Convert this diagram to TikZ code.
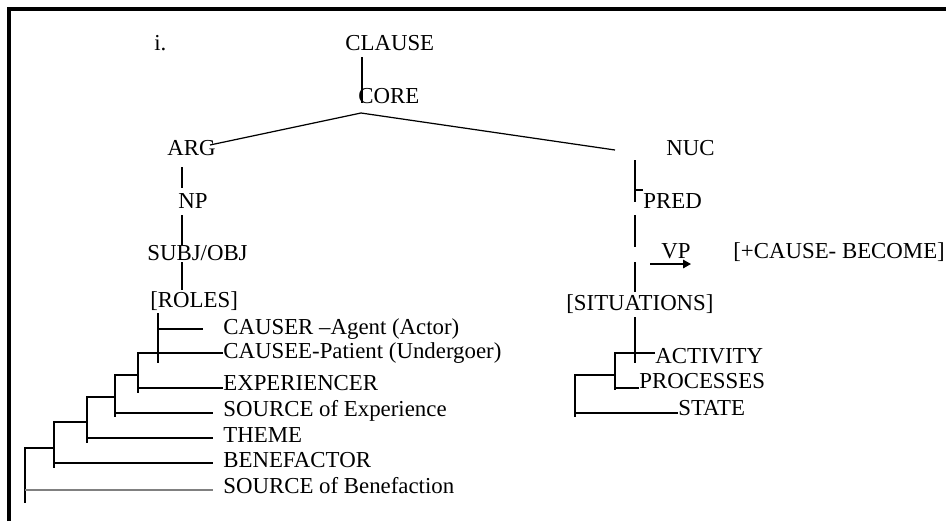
\documentclass[tikz,border=0pt]{standalone}
\usepackage{fontspec}
\setmainfont{Liberation Serif}
\usetikzlibrary{arrows.meta}

\begin{document}
\begin{tikzpicture}[
    x=0.02cm, y=-0.02cm,
    word/.style={anchor=base west, inner sep=0pt, font=\fontsize{13}{15}\selectfont},
    branch/.style={line width=0.7pt},
    gap/.style={branch, shorten >=0.2cm},
    frame/.style={line width=1.9pt}
]
\useasboundingbox (0,0) rectangle (946,521);
\draw[frame] (9,521) -- (9,9) -- (946,9);

% top of the tree
\node[word] (num) at (154,50) {i.};
\node[word] (clause) at (345,50) {CLAUSE};
\node[word] (core) at (358,103) {CORE};
\node[word] (arg) at (167,155) {ARG};
\node[word] (nuc) at (666,155) {NUC};
\node[word] (np) at (178,208) {NP};
\node[word] (pred) at (643,208) {PRED};
\node[word] (subj) at (147,260) {SUBJ/OBJ};
\node[word] (vp) at (661,258) {VP};
\node[word] (feat) at (733,258) {[+CAUSE- BECOME]};
\node[word] (roles) at (150,307) {[ROLES]};
\node[word] (sit) at (566,310) {[SITUATIONS]};

% roles
\node[word] (causer) at (223,334) {CAUSER –Agent (Actor)};
\node[word] (causee) at (223,358) {CAUSEE-Patient (Undergoer)};
\node[word] (exper) at (223,390) {EXPERIENCER};
\node[word] (srcexp) at (223,416) {SOURCE of Experience};
\node[word] (theme) at (223,442) {THEME};
\node[word] (benef) at (223,467) {BENEFACTOR};
\node[word] (srcben) at (223,493) {SOURCE of Benefaction};

% situations
\node[word] (activity) at (655,363) {ACTIVITY};
\node[word] (process) at (639,388) {PROCESSES};
\node[word] (state) at (678,415) {STATE};

\draw[branch] ([shift={(17,7)}]clause.base west) -- ([shift={(4,0)}]core.base west);
\draw[branch] ([shift={(43,-10)}]arg.base west) -- ([shift={(3,10)}]core.base west)
    -- ([shift={(-51,-5)}]nuc.base west);
\draw[branch] ([shift={(15,12)}]arg.base west) -- ([shift={(4,-20)}]np.base west);
\draw[branch] ([shift={(4,7)}]np.base west) -- ([shift={(35,-15)}]subj.base west);
\draw[branch] ([shift={(35,2)}]subj.base west) -- ([shift={(32,-17)}]roles.base west);

% role brackets
\coordinate (k0) at (158,363);
\coordinate (k1) at (158,329);
\draw[branch] ([shift={(8,6)}]roles.base west) -- (k0);
\draw[branch, shorten >=0.4cm] (k1) -- (k1 -| causer.west);

\coordinate (c1) at (138,353);
\coordinate (c2) at (138,393);
\coordinate (c3) at (138,388);
\draw[branch] (c1 -| causee.west) -- (c1) -- (c2);
\draw[branch] (c3) -- (c3 -| exper.west);

\coordinate (s1) at (115,375);
\coordinate (s2) at (115,417);
\coordinate (s3) at (115,413);
\draw[branch] (s1 -| c1) -- (s1) -- (s2);
\draw[gap] (s3) -- (s3 -| srcexp.west);

\coordinate (t1) at (87,397);
\coordinate (t2) at (87,443);
\coordinate (t3) at (87,438);
\draw[branch] (t1 -| s1) -- (t1) -- (t2);
\draw[gap] (t3) -- (t3 -| theme.west);

\coordinate (b1) at (54,422);
\coordinate (b2) at (54,468);
\coordinate (b3) at (54,463);
\draw[branch] (b1 -| t1) -- (b1) -- (b2);
\draw[gap] (b3) -- (b3 -| benef.west);

\coordinate (g1) at (25,448);
\coordinate (g2) at (25,503);
\coordinate (g3) at (25,490);
\draw[branch] (g1 -| b1) -- (g1) -- (g2);
\draw[gap, gray] (g3) -- (g3 -| srcben.west);

% nucleus side
\coordinate (n1) at (635,160);
\coordinate (n2) at (635,202);
\coordinate (n3) at (635,190);
\draw[branch] (n1) -- (n2);
\draw[branch] (n3) -- (n3 -| pred.west);
\draw[branch] ([shift={(-8,7)}]pred.base west) -- ([shift={(-26,-11)}]vp.base west);
\draw[branch] ([shift={(-26,4)}]vp.base west) -- ([shift={(69,-18)}]sit.base west);
\draw[-{Triangle[length=0.16cm, width=0.17cm]}, line width=0.9pt]
    ([shift={(-11,6)}]vp.base west) -- ([shift={(-42,6)}]feat.base west);

% situation brackets
\coordinate (m0) at (635,363);
\draw[branch] ([shift={(69,7)}]sit.base west) -- (m0);

\coordinate (a1) at (615,353);
\coordinate (a2) at (615,390);
\coordinate (a3) at (615,388);
\draw[branch] (a1 -| activity.west) -- (a1) -- (a2);
\draw[branch] (a3) -- (a3 -| process.west);

\coordinate (o1) at (575,375);
\coordinate (o2) at (575,417);
\coordinate (o3) at (575,413);
\draw[branch] (o1 -| a1) -- (o1) -- (o2);
\draw[branch] (o3) -- (o3 -| state.west);
\end{tikzpicture}
\end{document}
